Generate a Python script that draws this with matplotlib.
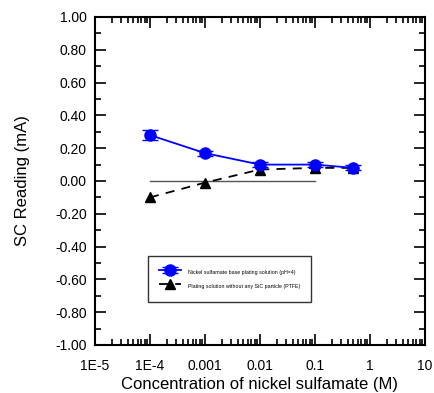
import matplotlib
matplotlib.use("Agg")
import matplotlib.pyplot as plt
from matplotlib.ticker import LogLocator, MultipleLocator, FixedFormatter, FixedLocator

plt.rcParams['font.family'] = ['Liberation Sans', 'DejaVu Sans']

# data
conc = [1e-4, 1e-3, 1e-2, 1e-1, 0.5]
nickel = [0.28, 0.17, 0.10, 0.10, 0.08]
nickel_err = [0.03, 0.015, 0.015, 0.015, 0.015]
ptfe = [-0.10, -0.01, 0.07, 0.08, 0.08]
zero_x = [1e-4, 1e-1]
zero_y = [0, 0]
xtick_vals = [1e-5, 1e-4, 1e-3, 1e-2, 1e-1, 1, 10]
xtick_labels = ['1E-5', '1E-4', '0.001', '0.01', '0.1', '1', '10']

fig = plt.figure(figsize=(4.35, 3.93), dpi=100)
ax = fig.add_axes([95 / 435, 48 / 393, 330 / 435, 328 / 393])

ax.plot(zero_x, zero_y, color='#555555', lw=1)
h1 = ax.errorbar(conc, nickel, yerr=nickel_err, color='blue', marker='o', ms=8,
                 lw=1.3, capsize=6)
h2, = ax.plot(conc, ptfe, color='black', marker='^', ms=7, lw=1.3, ls=(0, (5, 4)))

ax.set_xscale('log')
ax.set_xlim(1e-5, 10)
ax.set_ylim(-1, 1)
ax.xaxis.set_major_locator(FixedLocator(xtick_vals))
ax.xaxis.set_major_formatter(FixedFormatter(xtick_labels))
ax.xaxis.set_minor_locator(LogLocator(base=10, subs=range(2, 10), numticks=20))
ax.yaxis.set_major_locator(MultipleLocator(0.2))
ax.yaxis.set_minor_locator(MultipleLocator(0.1))
ax.yaxis.set_major_formatter(plt.FuncFormatter(lambda v, p: f'{v:.2f}'))

ax.tick_params(which='both', direction='in', top=True, right=True, width=1.2)
ax.tick_params(which='major', length=8, labelsize=10, pad=6)
ax.tick_params(axis='x', which='major', pad=10)
ax.tick_params(which='minor', length=4)
for s in ax.spines.values():
    s.set_linewidth(1.5)

ax.set_xlabel('Concentration of nickel sulfamate (M)', fontsize=12, labelpad=3)
ax.set_ylabel('SC Reading (mA)', fontsize=12, labelpad=18)

leg = ax.legend([h1, h2],
                ['Nickel sulfamate base plating solution (pH=4)',
                 'Plating solution without any SiC particle (PTFE)'],
                loc='lower left', bbox_to_anchor=(0.1606, 0.131), borderaxespad=0,
                fontsize=3.8, frameon=True, fancybox=False, edgecolor='black',
                borderpad=2.0, handlelength=4.3, handleheight=2.8,
                handletextpad=1.3, labelspacing=0.6)
leg.get_frame().set_linewidth(1)

fig.savefig('out.png', dpi=100)
